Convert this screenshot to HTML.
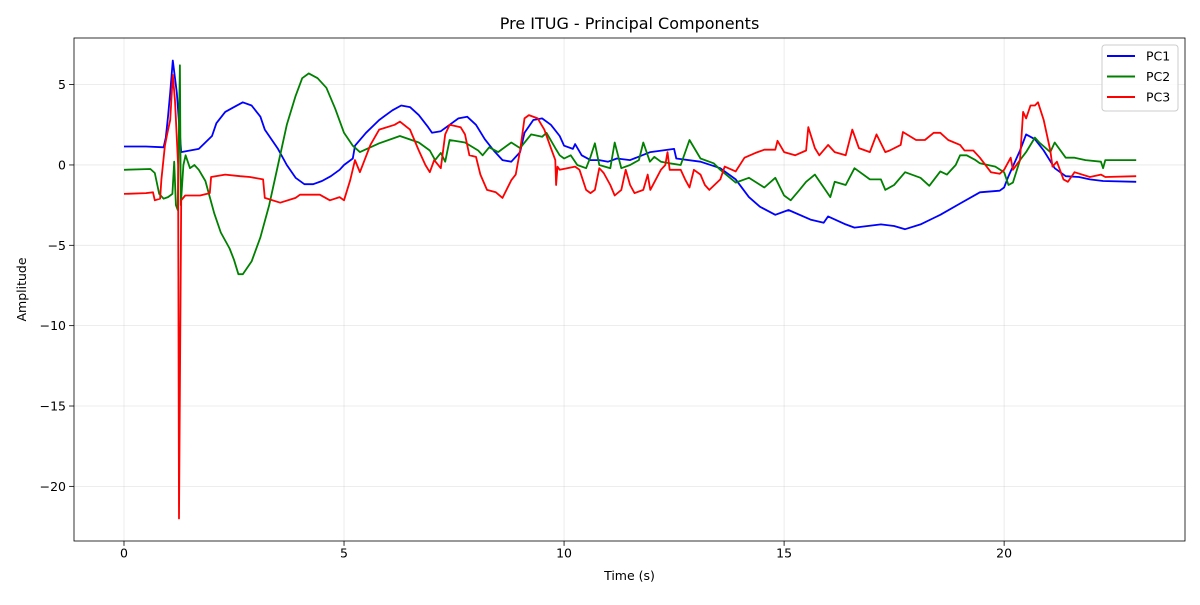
<!DOCTYPE html>
<html><head><meta charset="utf-8"><style>
body{margin:0;background:#fff;font-family:"Liberation Sans","DejaVu Sans",sans-serif}
svg text{font-family:"DejaVu Sans","Liberation Sans",sans-serif}
</style></head><body>
<svg id="c" width="1200" height="600" viewBox="0 0 1200 600" xmlns="http://www.w3.org/2000/svg"></svg>
<script>
const xTicks=[0,5,10,15,20];
const yTicks=[5,0,-5,-10,-15,-20];
const seriesNames=["PC1","PC2","PC3"];
const pc1T=[0,0.5,0.9,0.95,1.0,1.05,1.11,1.2,1.3,1.5,1.7,2.0,2.1,2.3,2.5,2.7,2.9,3.1,3.2,3.5,3.7,3.9,4.1,4.3,4.5,4.7,4.9,5.0,5.2,5.25,5.5,5.8,6.1,6.3,6.5,6.7,6.9,7.0,7.2,7.4,7.6,7.8,8.0,8.2,8.4,8.6,8.8,9.0,9.1,9.3,9.5,9.7,9.9,10.0,10.2,10.25,10.4,10.6,10.8,11.0,11.2,11.5,11.96,12.5,12.55,13.1,13.55,13.9,14.2,14.45,14.8,15.1,15.6,15.9,16.0,16.4,16.6,17.2,17.5,17.75,18.1,18.4,18.55,19.0,19.45,19.9,20.0,20.1,20.36,20.5,20.7,20.9,21.15,21.4,21.7,21.95,22.25,23.0];
const pc1V=[1.15,1.15,1.1,1.7,3,4.5,6.5,4.5,0.8,0.9,1.0,1.8,2.6,3.3,3.6,3.9,3.7,3.0,2.2,1.0,0,-0.8,-1.2,-1.2,-1.0,-0.7,-0.3,0,0.4,1.2,2.0,2.8,3.4,3.7,3.6,3.1,2.4,2.0,2.1,2.5,2.9,3.0,2.5,1.6,0.9,0.3,0.2,0.8,2.0,2.8,2.9,2.5,1.8,1.2,1.0,1.3,0.6,0.3,0.3,0.2,0.4,0.3,0.8,1.0,0.4,0.2,-0.2,-0.9,-2.0,-2.6,-3.1,-2.8,-3.4,-3.6,-3.2,-3.7,-3.9,-3.7,-3.8,-4.0,-3.7,-3.3,-3.1,-2.4,-1.7,-1.6,-1.4,-0.7,0.9,1.9,1.6,0.9,-0.2,-0.7,-0.75,-0.9,-1.0,-1.05];
const pc2T=[0,0.6,0.7,0.8,0.9,1.0,1.1,1.14,1.18,1.22,1.27,1.29,1.35,1.4,1.5,1.6,1.7,1.85,1.95,2.05,2.2,2.4,2.5,2.6,2.7,2.9,3.1,3.3,3.5,3.7,3.9,4.05,4.2,4.4,4.6,4.8,5.0,5.2,5.36,5.8,6.27,6.7,6.95,7.07,7.2,7.3,7.4,7.75,8.05,8.15,8.3,8.5,8.8,9.0,9.25,9.5,9.6,9.8,9.9,10.0,10.15,10.3,10.5,10.6,10.7,10.8,11.05,11.15,11.3,11.5,11.7,11.8,11.95,12.05,12.2,12.4,12.65,12.85,13.1,13.4,13.55,13.9,14.2,14.55,14.8,15.0,15.15,15.35,15.5,15.7,16.05,16.15,16.4,16.6,16.95,17.2,17.3,17.5,17.75,18.1,18.3,18.55,18.7,18.9,19.0,19.15,19.35,19.45,19.8,20.0,20.1,20.2,20.36,20.5,20.6,20.7,20.8,21.05,21.15,21.4,21.6,21.85,22.2,22.25,22.3,23.0];
const pc2V=[-0.3,-0.25,-0.5,-1.8,-2.1,-2.0,-1.8,0.2,-2.5,-2.8,6.2,-2.5,0,0.6,-0.2,0,-0.3,-1.0,-2.0,-3.0,-4.2,-5.2,-5.9,-6.8,-6.8,-6.0,-4.5,-2.5,0,2.5,4.3,5.4,5.7,5.4,4.8,3.5,2.0,1.2,0.8,1.35,1.8,1.4,0.9,0.3,0.75,0.2,1.55,1.4,0.9,0.6,1.1,0.8,1.4,1.05,1.9,1.75,2.0,1.05,0.6,0.4,0.6,0,-0.2,0.5,1.35,0,-0.2,1.4,-0.2,0,0.3,1.4,0.2,0.5,0.2,0.1,0,1.55,0.4,0.1,-0.3,-1.1,-0.8,-1.4,-0.8,-1.9,-2.2,-1.55,-1.05,-0.6,-2.0,-1.05,-1.25,-0.2,-0.9,-0.9,-1.55,-1.25,-0.45,-0.8,-1.3,-0.4,-0.6,0,0.6,0.6,0.3,0.1,-0.1,-0.45,-1.25,-1.1,0.3,0.8,1.25,1.7,1.4,0.8,1.4,0.45,0.45,0.3,0.2,-0.2,0.3,0.3];
const pc3T=[0,0.5,0.66,0.7,0.82,0.85,0.93,0.98,1.05,1.11,1.16,1.23,1.25,1.3,1.39,1.5,1.73,1.95,1.98,2.3,2.64,2.86,3.16,3.2,3.55,3.9,4.0,4.45,4.68,4.9,5.0,5.14,5.25,5.36,5.6,5.8,6.15,6.27,6.5,6.7,6.85,6.95,7.05,7.2,7.3,7.4,7.65,7.75,7.85,8.0,8.1,8.25,8.45,8.6,8.8,8.9,9.0,9.1,9.2,9.4,9.55,9.7,9.8,9.82,9.85,9.9,10.25,10.35,10.5,10.6,10.7,10.8,10.9,11.05,11.15,11.3,11.4,11.5,11.6,11.8,11.9,11.96,12.2,12.3,12.35,12.4,12.65,12.75,12.85,12.95,13.1,13.2,13.3,13.55,13.65,13.9,14.1,14.35,14.55,14.8,14.85,15.0,15.25,15.5,15.55,15.7,15.8,16.0,16.15,16.4,16.55,16.7,16.95,17.1,17.3,17.4,17.65,17.7,18.0,18.2,18.4,18.55,18.73,19.0,19.1,19.3,19.45,19.7,19.9,20.0,20.15,20.2,20.36,20.43,20.5,20.6,20.7,20.77,20.9,21.05,21.1,21.2,21.35,21.45,21.6,21.95,22.2,22.3,23.0];
const pc3V=[-1.8,-1.75,-1.7,-2.2,-2.1,-0.9,1.2,1.9,2.8,5.6,4.0,0,-22,-2.2,-1.9,-1.9,-1.9,-1.75,-0.75,-0.6,-0.7,-0.75,-0.9,-2.05,-2.35,-2.05,-1.85,-1.85,-2.2,-2.0,-2.2,-0.95,0.3,-0.45,1.25,2.2,2.5,2.7,2.2,0.9,0,-0.45,0.3,-0.2,1.9,2.5,2.35,1.9,0.6,0.5,-0.6,-1.55,-1.7,-2.05,-0.95,-0.6,0.9,2.9,3.1,2.9,2.2,1.05,0.3,-1.25,-0.1,-0.3,-0.1,-0.3,-1.55,-1.75,-1.55,-0.2,-0.5,-1.25,-1.9,-1.55,-0.3,-1.25,-1.75,-1.55,-0.6,-1.55,-0.3,0,0.8,-0.3,-0.3,-0.9,-1.4,-0.3,-0.6,-1.25,-1.55,-0.9,-0.1,-0.4,0.45,0.75,0.95,0.95,1.5,0.8,0.6,0.9,2.35,1.05,0.6,1.25,0.8,0.6,2.2,1.05,0.8,1.9,0.8,0.9,1.25,2.05,1.55,1.55,2.0,2.0,1.55,1.25,0.9,0.9,0.45,-0.45,-0.55,-0.3,0.45,-0.3,0.3,3.3,2.9,3.7,3.7,3.9,2.8,0.9,-0.1,0.2,-0.9,-1.05,-0.45,-0.75,-0.6,-0.75,-0.7];
const L=74,R=1185,T=38,B=541,xMin=-1.136,xMax=24.11,yMin=-23.4,yMax=7.9;
const sx=t=>L+(t-xMin)/(xMax-xMin)*(R-L);
const sy=v=>B-(v-yMin)/(yMax-yMin)*(B-T);
const NS="http://www.w3.org/2000/svg",svg=document.getElementById('c');
function mk(tag,a,txt){const e=document.createElementNS(NS,tag);for(const k in a)e.setAttribute(k,a[k]);if(txt!==undefined)e.textContent=txt;svg.appendChild(e);return e;}
xTicks.forEach(t=>{const x=sx(t);
 const g=mk('line',{x1:x,x2:x,y1:T,y2:B,stroke:'#b0b0b0','stroke-opacity':0.3,'stroke-width':0.8});
 
 
 const tk=mk('line',{x1:x,x2:x,y1:B,y2:B+4.9,stroke:'#000','stroke-width':0.8});
 
 
 const lb=mk('text',{x:x,y:B+16.5,'font-size':12.5,'text-anchor':'middle',fill:'#000'},String(t));
 
 });
yTicks.forEach((v,i)=>{const y=sy(v);
 const g=mk('line',{x1:L,x2:R,y1:y,y2:y,stroke:'#b0b0b0','stroke-opacity':0.3,'stroke-width':0.8});
 
 
 const tk=mk('line',{x1:L-4.9,x2:L,y1:y,y2:y,stroke:'#000','stroke-width':0.8});
 
 
 const lbl=v<0?'\u2212'+Math.abs(v):String(v);
 const lb=mk('text',{x:L-8,y:y+4.5,'font-size':12.5,'text-anchor':'end',fill:'#000'},lbl);
 
 });
const colors=['#0000ff','#008000','#ff0000'];
[[pc1T,pc1V],[pc2T,pc2V],[pc3T,pc3V]].forEach((s,i)=>{
 const d=s[0].map((t,j)=>(j?'L':'M')+sx(t).toFixed(1)+','+sy(s[1][j]).toFixed(1)).join('');
 const p=mk('path',{d:d,fill:'none',stroke:colors[i],'stroke-width':1.8,'stroke-linejoin':'round'});
 
 });
const fr=mk('rect',{x:L,y:T,width:R-L,height:B-T,fill:'none',stroke:'#000','stroke-width':0.8});


const ti=mk('text',{x:(L+R)/2,y:29,'font-size':16,'text-anchor':'middle'},'Pre ITUG - Principal Components');


const xt=mk('text',{x:(L+R)/2,y:580,'font-size':12.5,'text-anchor':'middle'},'Time (s)');


const yt=mk('text',{x:26,y:(T+B)/2,'font-size':12.5,'text-anchor':'middle',transform:'rotate(-90 26 '+((T+B)/2)+')'},'Amplitude');


const lg=mk('rect',{x:1102,y:45,width:76,height:66,rx:3,fill:'#fff','fill-opacity':0.8,stroke:'#ccc','stroke-width':1});


seriesNames.forEach((n,i)=>{const y=56+i*20.5;
 const l=mk('line',{x1:1107,x2:1135,y1:y,y2:y,stroke:colors[i],'stroke-width':2});
 
 
 const t=mk('text',{x:1146,y:y+4.5,'font-size':12.5},n);
 
 });
</script>
</body></html>
